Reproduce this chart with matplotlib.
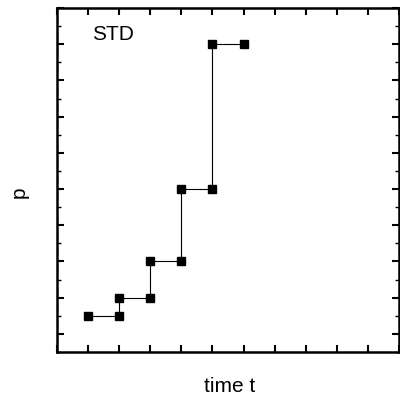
import numpy as np
import matplotlib.pyplot as plt
from matplotlib.ticker import MultipleLocator, NullFormatter

# step levels of the STD process
t_start = [1, 2, 3, 4, 5]
t_end = [2, 3, 4, 5, 6]
p_level = [0.5, 1, 2, 4, 8]

xs = np.column_stack([t_start, t_end]).ravel()
ys = np.repeat(p_level, 2)

fig = plt.figure(figsize=(4.0, 4.03), dpi=100)
ax = fig.add_axes([0.1425, 0.1266, 0.855, 0.8535])

ax.plot(xs, ys, color='black', lw=0.8, marker='s', ms=5.5,
        mfc='black', mec='black')

ax.set_xlim(0, 11)
ax.set_ylim(-0.5, 9)
ax.xaxis.set_major_locator(MultipleLocator(1))
ax.yaxis.set_major_locator(MultipleLocator(1))
ax.yaxis.set_minor_locator(MultipleLocator(0.5))
ax.xaxis.set_major_formatter(NullFormatter())
ax.yaxis.set_major_formatter(NullFormatter())
ax.tick_params(which='both', direction='in', top=True, right=True, width=1.5)
ax.tick_params(which='major', length=5)
ax.tick_params(which='minor', length=3, width=1)
for s in ax.spines.values():
    s.set_linewidth(1.8)

ax.text(0.103, 0.923, 'STD', transform=ax.transAxes, fontsize=15,
        family='Liberation Sans', ha='left', va='center')
ax.set_xlabel('time t', fontsize=15, family='Liberation Sans')
ax.set_ylabel('p', fontsize=15, family='Liberation Sans')
ax.xaxis.set_label_coords(0.506, -0.073)
ax.yaxis.set_label_coords(-0.082, 0.465)

fig.savefig('out.png', dpi=100)
